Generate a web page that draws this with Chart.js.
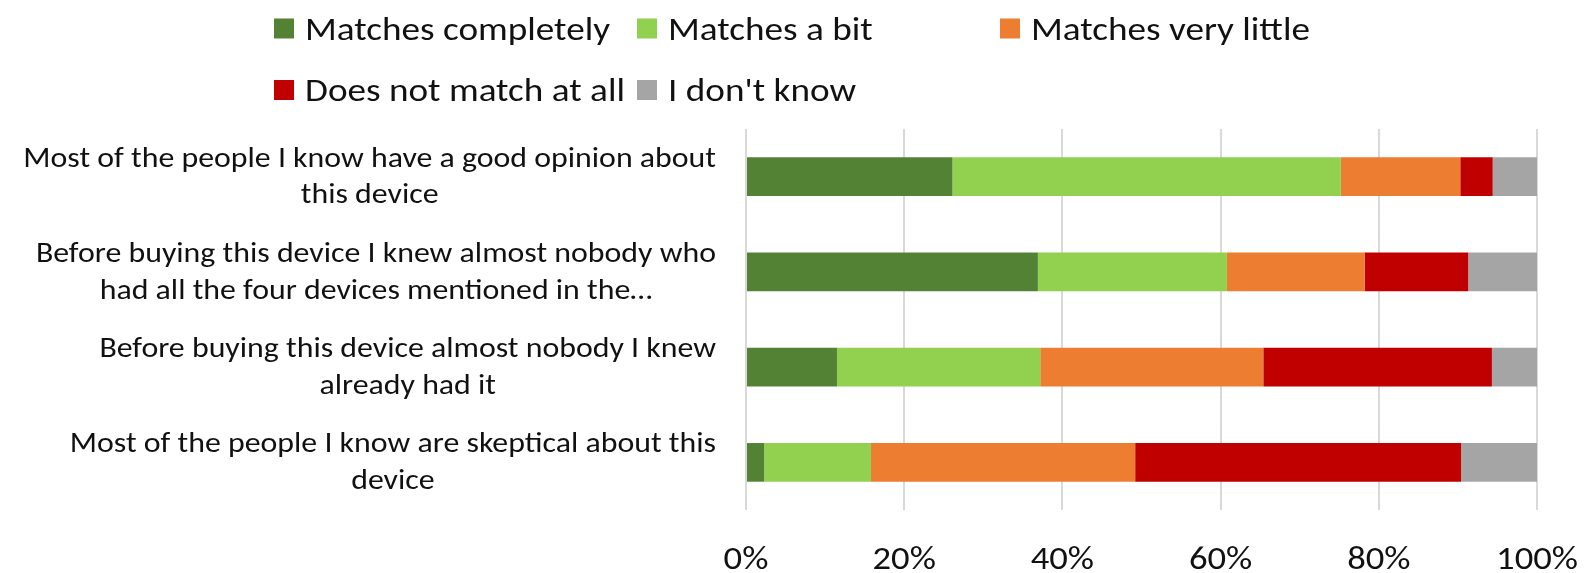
<!DOCTYPE html>
<html>
<head>
<meta charset="utf-8">
<script src="https://cdn.jsdelivr.net/npm/chart.js@4.4.1/dist/chart.umd.min.js"></script>
<style>
  html, body { margin: 0; padding: 0; background: #fff; }
  #wrap { width: 1596px; height: 573px; position: relative; }
</style>
</head>
<body>
<div id="wrap"><canvas id="surveyChart"></canvas></div>
<script>
// Statements (two lines each, as shown on the axis)
const statements = [
    ['Most of the people I know have a good opinion about', 'this device'],
    ['Before buying this device I knew almost nobody who', 'had all the four devices mentioned in the\u2026'],
    ['Before buying this device almost nobody I knew', 'already had it'],
    ['Most of the people I know are skeptical about this', 'device']
];

// Answer shares in percent, one value per statement
const matchesCompletely = [26.1, 36.9, 11.5, 2.3];
const matchesABit = [49.1, 23.9, 25.7, 13.5];
const matchesVeryLittle = [15.1, 17.4, 28.2, 33.4];
const doesNotMatch = [4.1, 13.1, 28.9, 41.2];
const dontKnow = [5.6, 8.7, 5.7, 9.6];

const answerLabels = ['Matches completely', 'Matches a bit', 'Matches very little', 'Does not match at all', "I don't know"];
const answerColors = ['#548235', '#92d050', '#ed7d31', '#c00000', '#a5a5a5'];
const axisTicks = [0, 20, 40, 60, 80, 100];

const FONT = 'Carlito, Calibri, Lato, sans-serif';
const TEXT_COLOR = '#111';
const SX = 1.11; // text is drawn slightly wide

// draw text stretched horizontally around its anchor
function stretchedText(ctx, text, x, y, align) {
    ctx.save();
    ctx.translate(x, y);
    ctx.scale(SX, 1);
    ctx.textAlign = align;
    ctx.fillText(text, 0, 0);
    ctx.restore();
}

// Legend laid out on a grid: [row, column] for each answer
const legendSlots = [[0, 0], [0, 1], [0, 2], [1, 0], [1, 1]];
const legendCols = [274, 637, 1000];
const legendRows = [28.5, 90];

const gridLegend = {
    id: 'gridLegend',
    afterDraw(chart) {
        const ctx = chart.ctx;
        ctx.save();
        ctx.font = '33.5px ' + FONT;
        ctx.textBaseline = 'alphabetic';
        chart.data.datasets.forEach((ds, i) => {
            const [r, c] = legendSlots[i];
            const x = legendCols[c];
            const y = legendRows[r];
            ctx.fillStyle = ds.backgroundColor;
            ctx.fillRect(x, y - 10, 20, 20);
            ctx.fillStyle = TEXT_COLOR;
            stretchedText(ctx, ds.label, x + 31, y + 11, 'left');
        });
        ctx.restore();
    }
};

// Category labels: block right-aligned, lines centred inside the block
const statementLabels = {
    id: 'statementLabels',
    afterDraw(chart) {
        const ctx = chart.ctx;
        const yScale = chart.scales.y;
        const right = 716;
        const lineH = 36.7;
        ctx.save();
        ctx.font = '28.7px ' + FONT;
        ctx.fillStyle = TEXT_COLOR;
        ctx.textBaseline = 'alphabetic';
        statements.forEach((lines, i) => {
            const widest = Math.max(...lines.map(l => ctx.measureText(l).width)) * SX;
            const cx = right - widest / 2;
            const cy = yScale.getPixelForValue(i);
            lines.forEach((line, j) => {
                stretchedText(ctx, line, cx, cy - 10 + j * lineH, 'center');
            });
        });
        ctx.restore();
    }
};

// Percentage labels under the value axis
const percentLabels = {
    id: 'percentLabels',
    afterDraw(chart) {
        const ctx = chart.ctx;
        const xScale = chart.scales.x;
        ctx.save();
        ctx.font = '33px ' + FONT;
        ctx.fillStyle = TEXT_COLOR;
        ctx.textBaseline = 'alphabetic';
        axisTicks.forEach(v => {
            stretchedText(ctx, v + '%', xScale.getPixelForValue(v), 569, 'center');
        });
        ctx.restore();
    }
};

const seriesValues = [matchesCompletely, matchesABit, matchesVeryLittle, doesNotMatch, dontKnow];

new Chart(document.getElementById('surveyChart'), {
    type: 'bar',
    data: {
        labels: statements,
        datasets: seriesValues.map((vals, i) => ({
            label: answerLabels[i],
            data: vals,
            backgroundColor: answerColors[i],
            borderWidth: 0,
            categoryPercentage: 1,
            barPercentage: 0.406
        }))
    },
    options: {
        indexAxis: 'y',
        responsive: true,
        maintainAspectRatio: false,
        animation: false,
        layout: { padding: { top: 129, right: 59, left: 0, bottom: 0 } },
        plugins: {
            legend: { display: false },
            tooltip: { enabled: false }
        },
        scales: {
            x: {
                stacked: true,
                min: 0,
                max: 100,
                afterBuildTicks: s => { s.ticks = axisTicks.map(v => ({ value: v })); },
                afterFit: s => { s.height = 63; s.paddingLeft = 0; s.paddingRight = 0; },
                grid: { color: '#d9d9d9', lineWidth: 2, drawTicks: false },
                border: { display: false },
                ticks: { display: false }
            },
            y: {
                stacked: true,
                afterFit: s => { s.width = 746; },
                grid: { display: false },
                border: { display: false },
                ticks: { display: false }
            }
        }
    },
    plugins: [gridLegend, statementLabels, percentLabels]
});
</script>
</body>
</html>
